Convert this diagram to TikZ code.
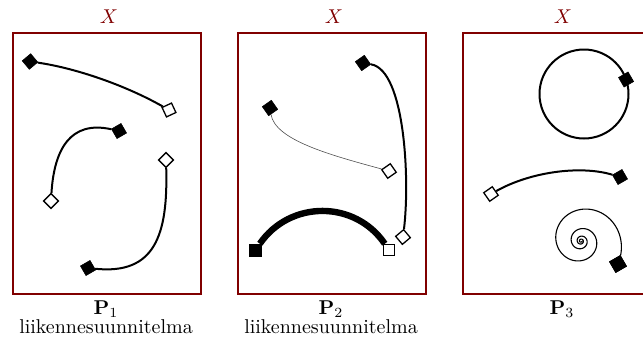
\documentclass[tikz,border=0pt]{standalone}
\usetikzlibrary{calc}
\definecolor{boxred}{RGB}{128,0,0}
\tikzset{
  frame/.style={draw=boxred, line width=1pt},
  curve/.style={line width=1pt, black},
  fmark/.style={draw=black, fill=black, line width=0.3pt, minimum size=5.5pt, inner sep=0pt, shape=rectangle},
  omark/.style={draw=black, fill=white, line width=0.65pt, minimum size=5.2pt, inner sep=0pt, shape=rectangle},
  xlabel/.style={text=boxred, anchor=base, inner sep=0pt},
  plabel/.style={anchor=base, inner sep=0pt},
}
\begin{document}
\begin{tikzpicture}[x=0.5pt, y=-0.5pt]
\useasboundingbox (0,0) rectangle (643,343);
\clip (0,0) rectangle (643,343);
% frames
\node[frame, minimum width=94pt, minimum height=130.5pt, anchor=north west, inner sep=0pt] (F1) at (12,32) {};
\node[frame, minimum width=94pt, minimum height=130.5pt, anchor=north west, inner sep=0pt] (F2) at (237,32) {};
\node[frame, minimum width=100pt, minimum height=130.5pt, anchor=north west, inner sep=0pt] (F3) at (462,32) {};
% labels
\node[xlabel] (X1) at (109,23) {$X$};
\node[xlabel] (X2) at (334,23) {$X$};
\node[xlabel] (X3) at (563,23) {$X$};
\node[plabel] (P1) at (106,314) {$\mathbf{P}_1$};
\node[plabel] (L1) at (106,333) {liikennesuunnitelma};
\node[plabel] (P2) at (331,314) {$\mathbf{P}_2$};
\node[plabel] (L2) at (331,333) {liikennesuunnitelma};
\node[plabel] (P3) at (562,314) {$\mathbf{P}_3$};
% ---- panel 1
\node[fmark, rotate=40] (a1) at (30,61.5) {};
\node[omark, rotate=25] (a2) at (169,110) {};
\node[fmark, rotate=30] (a3) at (119,131) {};
\node[omark, rotate=45] (a4) at (51,201) {};
\node[omark, rotate=45] (a5) at (166,160) {};
\node[fmark, rotate=30] (a6) at (88,268) {};
\draw[curve] (a1) .. controls (75,68) and (125,85) .. (a2);
\draw[curve] (a3) .. controls (70,120) and (54,150) .. (a4);
\draw[curve] (a5) .. controls (168,235) and (155,275) .. (a6);
% ---- panel 2
\node[fmark, rotate=35] (b1) at (363,63) {};
\node[omark, rotate=40] (b2) at (403,237) {};
\node[fmark, rotate=35] (b3) at (270,108) {};
\node[omark, rotate=35] (b4) at (389,171) {};
\node[fmark, minimum size=6pt] (b5) at (255.5,250) {};
\node[omark, minimum size=5.6pt] (b6) at (389,250) {};
\draw[curve] (b1) .. controls (405,70) and (410,180) .. (b2);
\draw[line width=0.3pt, black!70] (b3) .. controls (275,140) and (330,155) .. (b4);
\draw[line width=3.2pt, black] (b5) .. controls (290,200) and (355,200) .. (b6);
% ---- panel 3
\coordinate (cc) at (584,94);
\draw[curve] (cc) circle[radius=44.5];
\node[fmark, rotate=30] (c1) at ($(cc)+(-19:44.5)$) {};
\node[omark, rotate=35] (c2) at (491,194) {};
\node[fmark, rotate=30] (c3) at (620,177) {};
\draw[curve] (c2) .. controls (530,172) and (580,165) .. (c3);
\node[fmark, rotate=30, minimum size=6.2pt] (c4) at (618,264) {};
\draw[line width=0.55pt, black] plot[domain=0:1459, samples=500, smooth, variable=\t]
  ({581+42*exp(0.15*(\t-1459)*pi/180)*cos(\t)}, {241+42*exp(0.15*(\t-1459)*pi/180)*sin(\t)}) -- (c4);
\node[fmark, rotate=30, minimum size=6.2pt] at (c4) {};
\end{tikzpicture}
\end{document}
